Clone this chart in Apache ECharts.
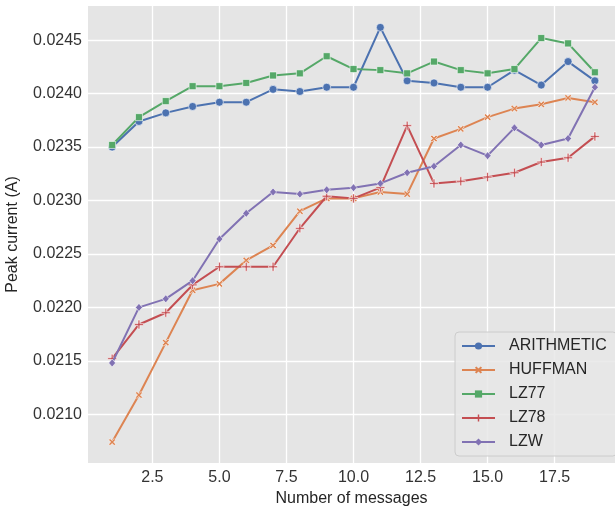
<!DOCTYPE html>
<html>
<head>
<meta charset="utf-8">
<script src="https://cdn.jsdelivr.net/npm/echarts@6/dist/echarts.min.js"></script>
<style>
  html, body { margin: 0; padding: 0; background: #ffffff; }
  #chart { width: 615px; height: 510px; }
</style>
</head>
<body>
<div id="chart"></div>
<script>
// Number of messages sent (x values)
const messages = [1, 2, 3, 4, 5, 6, 7, 8, 9, 10, 11, 12, 13, 14, 15, 16, 17, 18, 19];

// Peak current (A) per compression algorithm
const arithmetic = [0.02350, 0.02374, 0.02382, 0.02388, 0.02392, 0.02392, 0.02404, 0.02402, 0.02406, 0.02406,
                    0.02462, 0.02412, 0.02410, 0.02406, 0.02406, 0.02422, 0.02408, 0.02430, 0.02412];
const huffman    = [0.02074, 0.02118, 0.02167, 0.02216, 0.02222, 0.02244, 0.02258, 0.02290, 0.02302, 0.02302,
                    0.02308, 0.02306, 0.02358, 0.02367, 0.02378, 0.02386, 0.02390, 0.02396, 0.02392];
const lz77       = [0.02352, 0.02378, 0.02393, 0.02407, 0.02407, 0.02410, 0.02417, 0.02419, 0.02435, 0.02423,
                    0.02422, 0.02419, 0.02430, 0.02422, 0.02419, 0.02423, 0.02452, 0.02447, 0.02420];
const lz78       = [0.02152, 0.02184, 0.02195, 0.02221, 0.02238, 0.02238, 0.02238, 0.02274, 0.02304, 0.02302,
                    0.02312, 0.02370, 0.02316, 0.02318, 0.02322, 0.02326, 0.02336, 0.02340, 0.02360];
const lzw        = [0.02148, 0.02200, 0.02208, 0.02225, 0.02264, 0.02288, 0.02308, 0.02306, 0.02310, 0.02312,
                    0.02316, 0.02326, 0.02332, 0.02352, 0.02342, 0.02368, 0.02352, 0.02358, 0.02406];

const seriesNames = ['ARITHMETIC', 'HUFFMAN', 'LZ77', 'LZ78', 'LZW'];
const seriesValues = [arithmetic, huffman, lz77, lz78, lzw];

// Tick positions
const xTicks = [2.5, 5.0, 7.5, 10.0, 12.5, 15.0, 17.5];
const yTicks = [0.0210, 0.0215, 0.0220, 0.0225, 0.0230, 0.0235, 0.0240, 0.0245];

// seaborn "deep" palette
const colors = ['#4c72b0', '#dd8452', '#55a868', '#c44e52', '#8172b3'];

// marker shapes: circle, x, square, plus, thin diamond
const xMark = 'path://M2,0 L5,3 L8,0 L10,2 L7,5 L10,8 L8,10 L5,7 L2,10 L0,8 L3,5 L0,2 Z';
const plusMark = 'path://M4,0 L6,0 L6,4 L10,4 L10,6 L6,6 L6,10 L4,10 L4,6 L0,6 L0,4 L4,4 Z';
const symbols = ['circle', xMark, 'rect', plusMark, 'diamond'];
const symbolSizes = [8, 7, 7, 9, [7, 8]];

function pairs(vals) {
  return messages.map((m, i) => [m, vals[i]]);
}

const chart = echarts.init(document.getElementById('chart'), null, { renderer: 'canvas' });

const fontFamily = 'Liberation Sans, Arial, sans-serif';

chart.setOption({
  animation: false,
  backgroundColor: '#ffffff',
  grid: {
    left: 88,
    top: 6,
    right: 0,
    bottom: 47,
    show: true,
    containLabel: false,
    outerBoundsMode: 'none',
    backgroundColor: '#e5e5e5',
    borderWidth: 0
  },
  xAxis: {
    type: 'value',
    min: 0.1,
    max: 19.75,
    name: 'Number of messages',
    nameLocation: 'middle',
    nameGap: 28,
    nameTextStyle: { fontFamily, fontSize: 16, color: '#262626' },
    axisLine: { show: false },
    axisTick: { show: false, customValues: xTicks },
    axisLabel: {
      fontFamily, fontSize: 16, color: '#333333', margin: 7,
      customValues: xTicks,
      formatter: v => v.toFixed(1)
    },
    splitLine: { show: true, lineStyle: { color: '#ffffff', width: 1.3 } }
  },
  yAxis: {
    type: 'value',
    min: 0.020544,
    max: 0.02482,
    name: 'Peak current (A)',
    nameLocation: 'middle',
    nameGap: 67,
    nameTextStyle: { fontFamily, fontSize: 16, color: '#262626' },
    axisLine: { show: false },
    axisTick: { show: false, customValues: yTicks },
    axisLabel: {
      fontFamily, fontSize: 16, color: '#333333', margin: 6,
      customValues: yTicks,
      formatter: v => v.toFixed(4)
    },
    splitLine: { show: true, lineStyle: { color: '#ffffff', width: 1.3 } }
  },
  legend: {
    orient: 'vertical',
    left: 455,
    top: 332,
    width: 157,
    padding: [6, 10, 6, 6],
    itemGap: 8,
    itemWidth: 33,
    itemHeight: 9,
    backgroundColor: 'rgba(232,232,232,0.85)',
    borderColor: '#cccccc',
    borderWidth: 1,
    borderRadius: 4,
    itemStyle: { borderWidth: 0 },
    textStyle: { fontFamily, fontSize: 16, color: '#262626', padding: [0, 0, 0, 9] },
    data: seriesNames
  },
  color: colors,
  series: seriesNames.map((name, i) => ({
    name,
    type: 'line',
    data: pairs(seriesValues[i]),
    symbol: symbols[i],
    symbolSize: symbolSizes[i],
    showSymbol: true,
    lineStyle: { width: 2, color: colors[i] },
    itemStyle: { color: colors[i], borderColor: '#ffffff', borderWidth: 0.6 },
    z: 2 + i
  }))
});
</script>
</body>
</html>
